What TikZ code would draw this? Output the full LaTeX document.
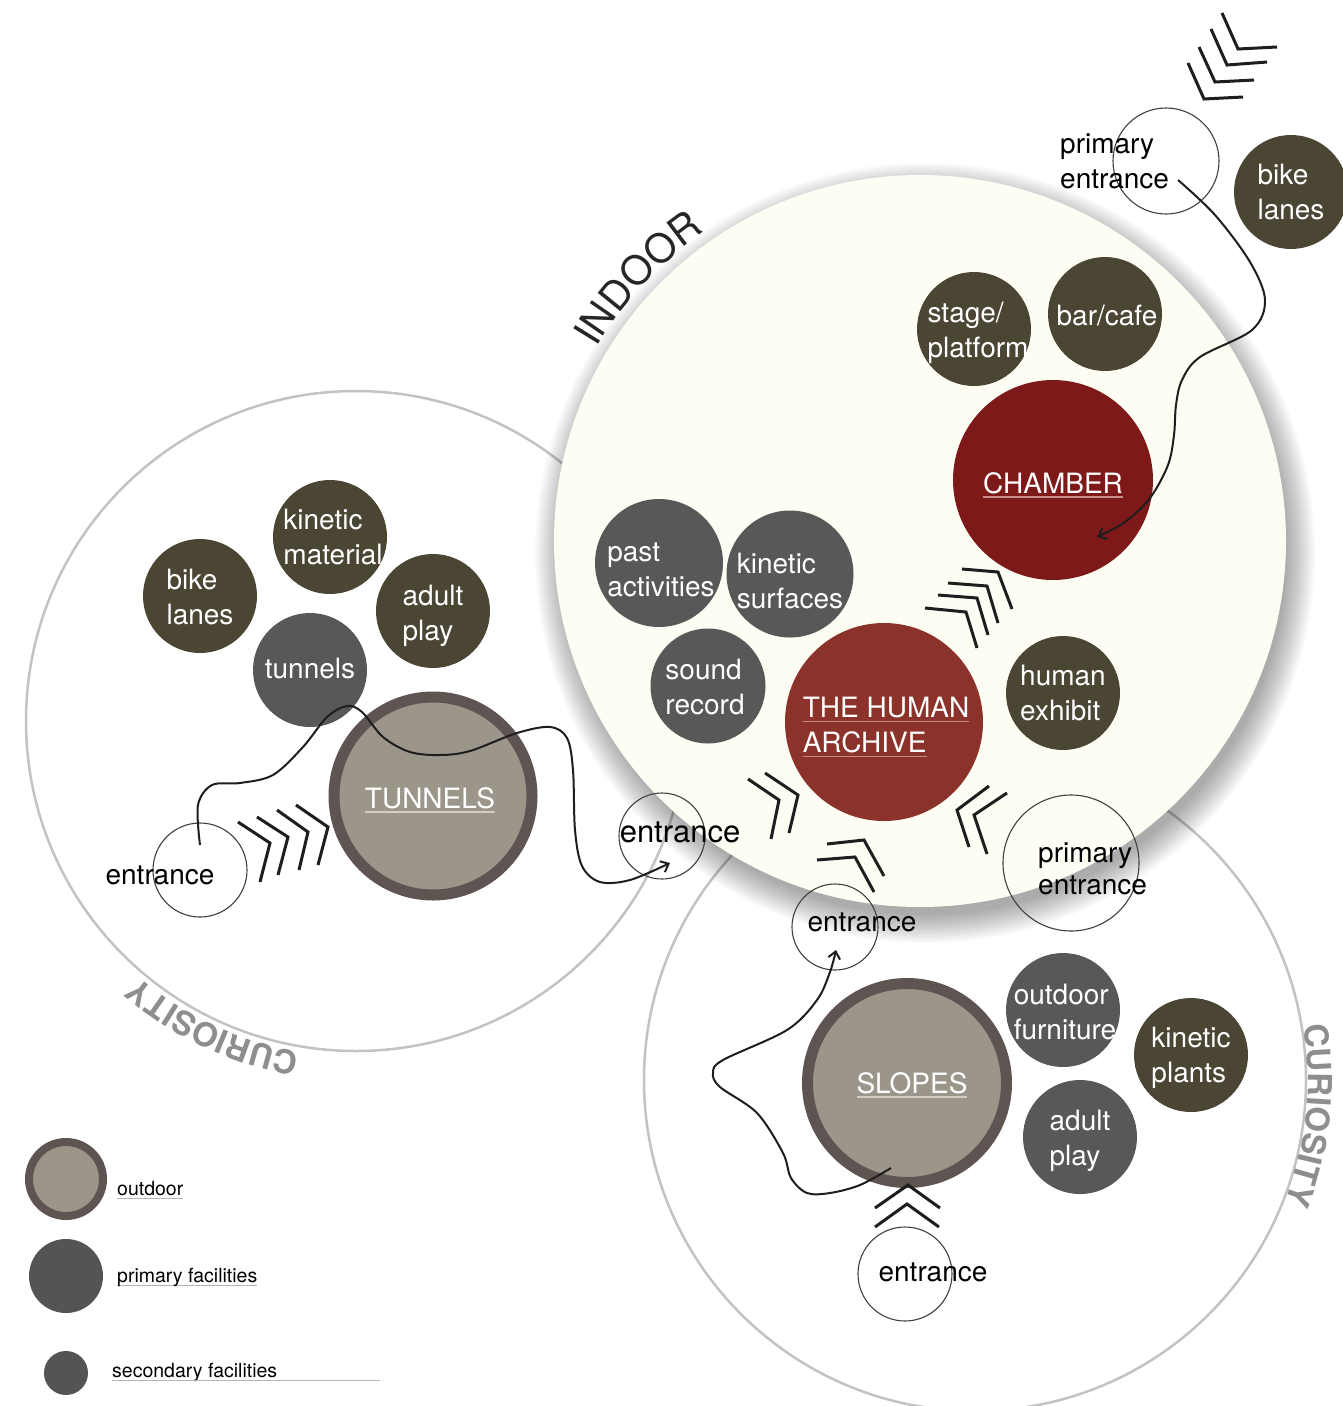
\documentclass[tikz,border=0pt]{standalone}
\usepackage{fontspec}
\setmainfont{TeX Gyre Heros}
\usetikzlibrary{decorations.text,arrows.meta}
\definecolor{cOlive}{HTML}{4B4534}
\definecolor{cGray}{HTML}{585858}
\definecolor{cGrayL}{HTML}{545456}
\definecolor{cChamber}{HTML}{7E1919}
\definecolor{cArchive}{HTML}{8B322B}
\definecolor{cOutdoor}{HTML}{9C968A}
\definecolor{cRing}{HTML}{5E5451}
\definecolor{cCream}{HTML}{FDFDF4}
\definecolor{cCurLine}{HTML}{C3C3C5}
\definecolor{cCurText}{HTML}{8E8E90}
\definecolor{ulRed}{HTML}{C88C88}
\definecolor{ulGray}{HTML}{D2CEC6}
\definecolor{ulLeg}{HTML}{B5B5B5}
\definecolor{cLine}{HTML}{1E1E1E}
\newcommand\myul[3]{\setbox0=\hbox{#3}\leavevmode\rlap{\textcolor{#1}{\rule[#2]{\wd0}{1.4pt}}}\box0}
\begin{document}
\begin{tikzpicture}[x=1pt,y=1pt,
  fac/.style={circle, inner sep=0pt, minimum size=#1},
  ent/.style={circle, draw=black!75, line width=1.1pt, inner sep=0pt, minimum size=#1},
  wtxt/.style={text=white, font=\fontsize{28}{35}\selectfont, align=left, inner sep=0pt},
  btxt/.style={text=black, font=\fontsize{28}{35}\selectfont, align=left, inner sep=0pt},
  ltxt/.style={text=black, font=\fontsize{19.5}{24}\selectfont, inner sep=0pt, anchor=west},
  curline/.style={draw=cCurLine, line width=2.5pt},
  chev/.style={draw=cLine, line width=3pt},
  conn/.style={draw=cLine, line width=2pt},
  arr/.style={-{Straight Barb[length=7pt,width=12pt,line width=2pt]}}
]
\useasboundingbox (0,0) rectangle (1343,-1406);
\fill[white] (0,0) rectangle (1343,-1406);

% curiosity circles
\draw[curline] (356,-721) circle (330);
\draw[curline] (975,-1080) circle (331);
\path[decorate, decoration={text along path, text align=center, text color=cCurText,
  text={|\fontsize{33}{33}\selectfont\bfseries|CURIOSITY}}, shift={(356,-721)}]
  (276:336) arc[start angle=276, end angle=214, radius=336];
\path[decorate, decoration={text along path, text align=center, text color=cCurText,
  text={|\fontsize{33}{33}\selectfont\bfseries|CURIOSITY}}, shift={(975,-1080)}]
  (24:333) arc[start angle=24, end angle=-36, radius=333];

% indoor circle with soft shadow
\foreach \k in {0,...,14}{\fill[black,opacity=0.024] (925,-553) circle ({390-2*\k});}
\fill[cCream] (920,-541) circle (366);
\path[decorate, decoration={text along path, text align=center, text color=black!85,
  text={|\fontsize{40}{40}\selectfont|INDOOR}}, shift={(920,-541)}]
  (160:377) arc[start angle=160, end angle=114, radius=377];

% indoor facilities
\node[fac=114, fill=cOlive] (stage) at (974,-329) {};
\node[wtxt] at ([xshift=4pt,yshift=-4pt]stage) {stage/\\platform};
\node[fac=114, fill=cOlive] (bar) at (1105,-314) {};
\node[wtxt] at ([xshift=2pt,yshift=-2pt]bar) {bar/cafe};
\node[fac=200, fill=cChamber] (chamber) at (1053,-480) {};
\node[wtxt] at ([yshift=-5pt]chamber) {\myul{ulRed}{-4.5pt}{CHAMBER}};
\node[fac=128, fill=cGray] (past) at (659,-563) {};
\node[wtxt] at ([yshift=-7pt,xshift=2pt]past) {past\\activities};
\node[fac=127, fill=cGray] (kin) at (790,-574) {};
\node[wtxt] at ([yshift=-7pt]kin) {kinetic\\surfaces};
\node[fac=115, fill=cGray] (sound) at (708,-686) {};
\node[wtxt] at ([xshift=-3pt,yshift=-1pt]sound) {sound\\record};
\node[fac=198, fill=cArchive] (archive) at (884,-722) {};
\node[wtxt] at ([xshift=2pt,yshift=-5pt]archive) {\myul{ulRed}{-4.5pt}{THE HUMAN}\\\myul{ulRed}{-4.5pt}{ARCHIVE}};
\node[fac=114, fill=cOlive] (human) at (1063,-693) {};
\node[wtxt] at (human) {human\\exhibit};

% top right
\node[fac=114, fill=cOlive] (bikeT) at (1291,-192) {};
\node[wtxt] at (bikeT) {bike\\lanes};

% left (tunnels) zone
\node[fac=114, fill=cOlive] (bikeL) at (200,-596) {};
\node[wtxt] at ([yshift=-1pt]bikeL) {bike\\lanes};
\node[fac=114, fill=cOlive] (kinmat) at (330,-537) {};
\node[wtxt] at ([xshift=3pt]kinmat) {kinetic\\material};
\node[fac=114, fill=cOlive] (adultL) at (433,-611) {};
\node[wtxt] at ([yshift=-5pt]adultL) {adult\\play};
\node[fac=114, fill=cGray] (tunS) at (310,-670) {};
\node[wtxt] at ([yshift=2pt]tunS) {tunnels};
\node[fac=198, fill=cOutdoor, draw=cRing, line width=11pt] (tun) at (433,-796) {};
\node[wtxt] at ([xshift=-3pt,yshift=-4pt]tun) {\myul{ulGray}{-4.5pt}{TUNNELS}};

% bottom (slopes) zone
\node[fac=199, fill=cOutdoor, draw=cRing, line width=11pt] (slopes) at (907,-1083) {};
\node[wtxt] at ([xshift=5pt,yshift=-2pt]slopes) {\myul{ulGray}{-4.5pt}{SLOPES}};
\node[fac=114, fill=cGray] (furn) at (1063,-1010) {};
\node[wtxt] at ([xshift=2pt,yshift=-2pt]furn) {outdoor\\furniture};
\node[fac=114, fill=cOlive] (plants) at (1191,-1055) {};
\node[wtxt] at ([yshift=-3pt]plants) {kinetic\\plants};
\node[fac=114, fill=cGray] (adultB) at (1080,-1137) {};
\node[wtxt] at ([yshift=-4pt]adultB) {adult\\play};

% entrances
\node[ent=106] (ePT) at (1166,-161) {};
\node[btxt, anchor=west] at (1060,-161) {primary\\entrance};
\node[ent=86] (eL) at (662,-836) {};
\node[btxt, font=\fontsize{31}{35}\selectfont] at (680,-832) {entrance};
\node[ent=136] (ePB) at (1071,-863) {};
\node[btxt, anchor=west, font=\fontsize{28}{32}\selectfont] at (1038,-869) {primary\\entrance};
\node[ent=86] (eB) at (835,-927) {};
\node[btxt] at (862,-922) {entrance};
\node[ent=94] (eS) at (905,-1274) {};
\node[btxt] at (933,-1272) {entrance};
\node[ent=94] (eT) at (200,-870) {};
\node[btxt] at (160,-875) {entrance};

% connectors
\coordinate (c1s) at (1178,-180);
\coordinate (c1e) at (1097,-537);
\draw[conn,arr] plot[smooth,tension=0.55] coordinates {(c1s) (1215,-215) (1250,-262) (1265,-300) (1252,-330) (1200,-357) (1182,-380) (1176,-405) (1174,-435) (1168,-465) (1150,-498) (1125,-522) (c1e)};
\coordinate (c2s) at (200,-845);
\coordinate (c2e) at (670,-863);
\draw[conn,arr] plot[smooth,tension=0.55] coordinates {(c2s) (198,-805) (212,-785) (240,-783) (273,-775) (303,-747) (327,-717) (347,-706) (362,-712) (383,-737) (410,-752) (440,-755) (470,-751) (517,-733) (550,-727) (567,-738) (573,-770) (575,-830) (582,-866) (600,-882) (630,-880) (c2e)};
\coordinate (c3s) at (891,-1168);
\coordinate (c3e) at (836,-950);
\draw[conn,arr] plot[smooth,tension=0.55] coordinates {(c3s) (860,-1185) (830,-1193) (807,-1193) (791,-1178) (783,-1153) (757,-1113) (720,-1087) (713,-1073) (723,-1060) (787,-1030) (817,-1000) (830,-972) (c3e)};

% chevrons
\draw[chev] (1222,-13) -- (1238,-49) -- (1277,-47);
\draw[chev] (1211,-29) -- (1227,-65) -- (1267,-62);
\draw[chev] (1199,-47) -- (1215,-82) -- (1254,-80);
\draw[chev] (1188,-63) -- (1204,-99) -- (1243,-97);
\draw[chev] (962,-569) -- (998,-572) -- (1012,-609);
\draw[chev] (948,-583) -- (987,-586) -- (998,-623);
\draw[chev] (938,-595) -- (977,-598) -- (988,-635);
\draw[chev] (925,-608) -- (966,-612) -- (977,-648);
\draw[chev] (748,-779) -- (779,-800) -- (771,-839);
\draw[chev] (765,-773) -- (798,-795) -- (789,-833);
\draw[chev] (827,-844) -- (864,-840) -- (884,-876);
\draw[chev] (817,-860) -- (855,-857) -- (874,-892);
\draw[chev] (989,-786) -- (957,-810) -- (969,-847);
\draw[chev] (1007,-793) -- (974,-815) -- (987,-854);
\draw[chev] (238,-822) -- (270,-843) -- (260,-882);
\draw[chev] (257,-817) -- (288,-837) -- (278,-875);
\draw[chev] (277,-810) -- (308,-832) -- (299,-870);
\draw[chev] (296,-805) -- (328,-827) -- (318,-865);
\draw[chev] (875,-1208) -- (908,-1185) -- (940,-1208);
\draw[chev] (875,-1227) -- (907,-1204) -- (939,-1227);

% legend
\node[fac=74, fill=cOutdoor, draw=cRing, line width=8pt] (lgO) at (66,-1179) {};
\node[ltxt] (lgOt) at (117,-1190) {\myul{ulLeg}{-4pt}{outdoor}};
\node[fac=74, fill=cGrayL] (lgP) at (66,-1276) {};
\node[ltxt] (lgPt) at (117,-1277) {\myul{ulLeg}{-4pt}{primary facilities}};
\node[fac=44, fill=cGrayL] (lgS) at (66,-1373) {};
\node[ltxt] (lgSt) at (112,-1372) {secondary facilities};
\draw[ulLeg, line width=1.2pt] ([yshift=-3.5pt]lgSt.base west) -- ++(268,0);
\end{tikzpicture}
\end{document}
